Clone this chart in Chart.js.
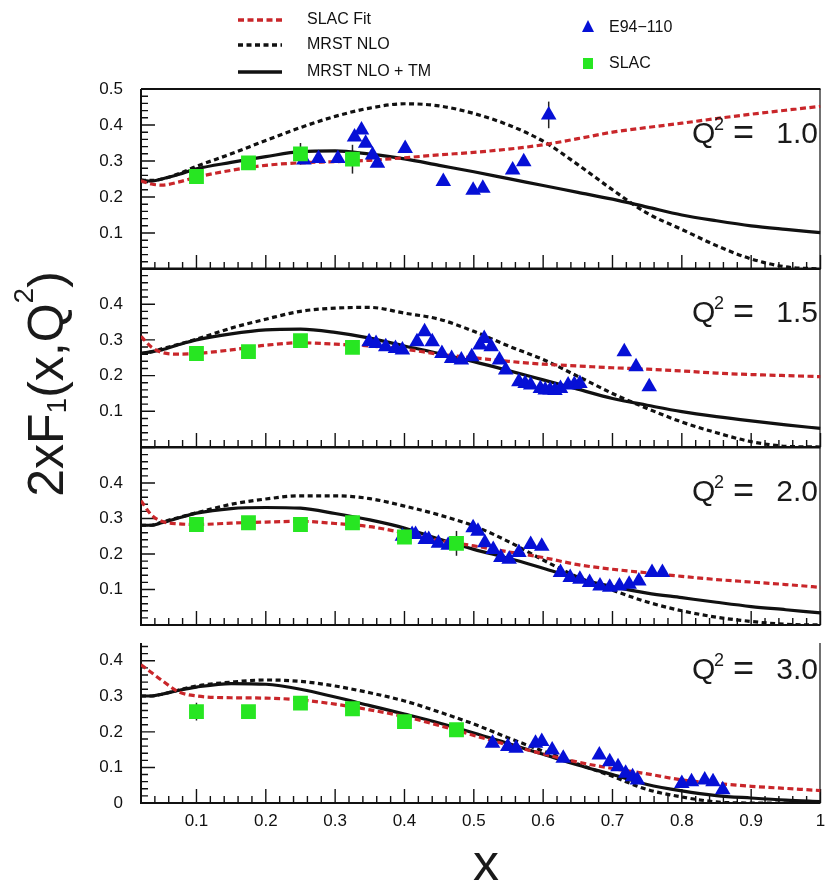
<!DOCTYPE html>
<html>
<head>
<meta charset="utf-8">
<script src="https://cdn.jsdelivr.net/npm/chart.js@4.4.1/dist/chart.umd.min.js"></script>
<style>
  html, body { margin: 0; padding: 0; background: #fff; }
  #wrap { position: relative; width: 831px; height: 883px; overflow: hidden; background: #fff; }
  #wrap canvas { position: absolute; left: 0; top: 0; }
</style>
</head>
<body>
<div id="wrap">
  <canvas id="p0" width="831" height="883"></canvas>
  <canvas id="p1" width="831" height="883"></canvas>
  <canvas id="p2" width="831" height="883"></canvas>
  <canvas id="p3" width="831" height="883"></canvas>
</div>
<script>
// ---- x grid shared by the model curves ----
const xGrid = [0.02, 0.035, 0.05, 0.075, 0.1, 0.15, 0.2, 0.25, 0.3, 0.35, 0.4, 0.45,
               0.5, 0.55, 0.6, 0.65, 0.7, 0.75, 0.8, 0.85, 0.9, 0.95, 1.0];

// ---- Q^2 = 1.0 ----
const slacFit1 = [0.245,0.236,0.233,0.242,0.255,0.274,0.288,0.295,0.298,0.302,0.309,0.317,0.324,0.333,0.345,0.362,0.380,0.393,0.405,0.418,0.430,0.441,0.452];
const mrst1    = [0.247,0.246,0.250,0.265,0.285,0.320,0.357,0.393,0.424,0.447,0.459,0.453,0.432,0.400,0.355,0.290,0.220,0.155,0.110,0.065,0.028,0.006,0.000];
const mrstTM1  = [0.247,0.244,0.250,0.263,0.278,0.296,0.312,0.326,0.328,0.319,0.306,0.288,0.270,0.251,0.232,0.213,0.194,0.172,0.150,0.134,0.120,0.110,0.101];
const e94X1 = [0.255,0.276,0.304,0.328,0.338,0.344,0.354,0.361,0.401,0.456,0.499,0.513,0.556,0.572,0.608];
const e94Y1 = [0.303,0.307,0.307,0.367,0.386,0.349,0.317,0.294,0.335,0.243,0.219,0.224,0.275,0.298,0.428];
const e94Err1 = [0,0,0,0,0,0,0,0,0,0,0,0,0,0,0.037];
const slacY1 = [0.257,0.295,0.320,0.305];
const slacErr1 = [0.012,0.012,0.030,0.040];

// ---- Q^2 = 1.5 ----
const slacFit2 = [0.310,0.280,0.265,0.260,0.262,0.272,0.285,0.292,0.288,0.283,0.274,0.260,0.250,0.240,0.232,0.227,0.222,0.218,0.213,0.207,0.203,0.200,0.197];
const mrst2    = [0.262,0.266,0.275,0.288,0.302,0.333,0.358,0.380,0.389,0.391,0.375,0.358,0.324,0.283,0.245,0.198,0.150,0.108,0.070,0.040,0.015,0.002,0.000];
const mrstTM2  = [0.262,0.267,0.272,0.287,0.300,0.317,0.328,0.330,0.321,0.305,0.283,0.262,0.239,0.214,0.188,0.162,0.136,0.117,0.099,0.085,0.073,0.062,0.052];
const e94X2 = [0.349,0.359,0.373,0.387,0.397,0.418,0.429,0.440,0.454,0.468,0.482,0.497,0.509,0.515,0.525,0.537,0.546,0.565,0.574,0.582,0.596,0.603,0.610,0.617,0.625,0.636,0.645,0.653,0.717,0.734,0.753];
const e94Y2 = [0.295,0.290,0.281,0.276,0.272,0.295,0.323,0.295,0.262,0.248,0.244,0.253,0.286,0.304,0.281,0.244,0.216,0.183,0.178,0.174,0.164,0.160,0.160,0.158,0.164,0.174,0.175,0.178,0.267,0.225,0.169];
const slacY2 = [0.262,0.267,0.298,0.279];
const slacErr2 = [0.012,0.012,0.012,0.012];

// ---- Q^2 = 2.0 ----
const slacFit3 = [0.350,0.310,0.292,0.285,0.283,0.287,0.290,0.292,0.286,0.277,0.259,0.238,0.223,0.206,0.190,0.170,0.157,0.147,0.137,0.128,0.121,0.114,0.106];
const mrst3    = [0.281,0.281,0.290,0.303,0.316,0.340,0.355,0.364,0.364,0.356,0.335,0.310,0.279,0.235,0.183,0.135,0.098,0.065,0.040,0.022,0.010,0.002,0.000];
const mrstTM3  = [0.281,0.281,0.288,0.302,0.315,0.328,0.331,0.329,0.314,0.296,0.273,0.242,0.213,0.188,0.160,0.131,0.108,0.090,0.077,0.064,0.052,0.043,0.034];
const e94X3 = [0.397,0.411,0.416,0.430,0.435,0.449,0.463,0.499,0.506,0.516,0.528,0.539,0.551,0.565,0.582,0.598,0.625,0.639,0.653,0.667,0.682,0.696,0.710,0.724,0.738,0.757,0.772];
const e94Y3 = [0.250,0.255,0.255,0.241,0.241,0.230,0.225,0.274,0.264,0.232,0.213,0.190,0.185,0.204,0.227,0.222,0.148,0.134,0.129,0.120,0.110,0.106,0.110,0.115,0.124,0.148,0.148];
const slacY3 = [0.283,0.288,0.283,0.288,0.248,0.230];
const slacErr3 = [0.010,0.010,0.010,0.010,0.012,0.035];

// ---- Q^2 = 3.0 ----
const slacFit4 = [0.389,0.367,0.345,0.312,0.301,0.296,0.295,0.290,0.278,0.262,0.243,0.218,0.190,0.163,0.138,0.115,0.097,0.082,0.065,0.055,0.047,0.041,0.035];
const mrst4    = [0.301,0.301,0.306,0.318,0.329,0.340,0.346,0.342,0.329,0.310,0.287,0.256,0.222,0.183,0.146,0.110,0.075,0.038,0.017,0.003,0.000,0.000,0.000];
const mrstTM4  = [0.301,0.301,0.306,0.317,0.326,0.336,0.334,0.320,0.298,0.274,0.250,0.225,0.197,0.167,0.137,0.107,0.080,0.052,0.034,0.021,0.014,0.008,0.004];
const e94X4 = [0.527,0.549,0.561,0.589,0.598,0.613,0.629,0.681,0.696,0.708,0.719,0.729,0.736,0.800,0.814,0.833,0.845,0.859];
const e94Y4 = [0.168,0.159,0.154,0.168,0.173,0.149,0.126,0.135,0.116,0.102,0.084,0.074,0.065,0.055,0.060,0.065,0.060,0.037];
const slacY4 = [0.257,0.257,0.281,0.265,0.229,0.206];
const slacErr4 = [0.025,0.010,0.010,0.010,0.012,0.012];

// SLAC measurement x positions
const slacX = [0.1, 0.175, 0.25, 0.325, 0.4, 0.475];

// axis labels
const xTickVals = [0.1,0.2,0.3,0.4,0.5,0.6,0.7,0.8,0.9,1.0];
const xTickText = ['0.1','0.2','0.3','0.4','0.5','0.6','0.7','0.8','0.9','1'];
const yTickVals5 = [0.1,0.2,0.3,0.4,0.5];
const yTickVals4 = [0.1,0.2,0.3,0.4];
const yTickVals4z = [0,0.1,0.2,0.3,0.4];
const q2Labels = ['1.0','1.5','2.0','3.0'];

const RED = '#c9262a', BLUE = '#0610d6', GREEN = '#27e622', INK = '#111';
const FONT = '"Liberation Sans", Arial, Helvetica, sans-serif';

const pts = (xs, ys) => xs.map((x, i) => ({ x, y: ys[i] }));

// draws frame, inward ticks and tick labels of one panel
const panelFrame = {
  id: 'panelFrame',
  beforeDatasetsDraw(chart, args, o) {
    const { ctx, chartArea: a, scales: { x, y } } = chart;
    ctx.save();
    ctx.strokeStyle = INK;
    ctx.lineWidth = 2;
    ctx.beginPath();
    ctx.moveTo(a.left, a.top); ctx.lineTo(a.left, a.bottom); ctx.lineTo(a.right, a.bottom);
    if (o.topLine) { ctx.moveTo(a.left, a.top); ctx.lineTo(a.right, a.top); }
    ctx.stroke();
    ctx.lineWidth = 1.2;
    ctx.beginPath();
    ctx.moveTo(a.right - 0.5, a.top); ctx.lineTo(a.right - 0.5, a.bottom);
    ctx.stroke();
    ctx.lineWidth = 1.4;
    ctx.beginPath();
    for (let k = 1; k * 0.02 <= o.yMax + 1e-9; k++) {
      const py = y.getPixelForValue(k * 0.02);
      const len = k % 5 === 0 ? 14 : 7;
      ctx.moveTo(a.left, py); ctx.lineTo(a.left + len, py);
    }
    for (let k = 1; k <= 50; k++) {
      const px = x.getPixelForValue(k * 0.02);
      const len = k % 5 === 0 ? 14 : 7;
      ctx.moveTo(px, a.bottom); ctx.lineTo(px, a.bottom - len);
    }
    ctx.stroke();
    ctx.restore();
  },
  afterDraw(chart, args, o) {
    const { ctx, chartArea: a, scales: { x, y } } = chart;
    ctx.save();
    ctx.fillStyle = INK;
    ctx.font = '17px ' + FONT;
    ctx.textAlign = 'right';
    ctx.textBaseline = 'middle';
    o.yTicks.forEach(v => ctx.fillText(v === 0 ? '0' : v.toFixed(1), a.left - 18, y.getPixelForValue(v)));
    if (o.xLabels) {
      ctx.textAlign = 'center';
      xTickVals.forEach((v, i) => ctx.fillText(xTickText[i], x.getPixelForValue(v), a.bottom + 18));
    }
    // Q^2 annotation
    const base = y.getPixelForValue(0.35);
    ctx.fillStyle = '#1a1a1a';
    ctx.textBaseline = 'alphabetic';
    ctx.textAlign = 'left';
    ctx.font = '30px ' + FONT;
    ctx.fillText('Q', 692, base);
    ctx.font = '18px ' + FONT;
    ctx.fillText('2', 714, base - 13);
    ctx.font = '36px ' + FONT;
    ctx.fillText('=', 733, base + 1);
    ctx.font = '30px ' + FONT;
    ctx.textAlign = 'right';
    ctx.fillText(o.q, 818, base);
    ctx.restore();
  }
};

// symmetric vertical error bars from dataset.errors
const errorBars = {
  id: 'errorBars',
  beforeDatasetsDraw(chart) {
    const { ctx, scales: { x, y } } = chart;
    ctx.save();
    ctx.strokeStyle = '#222';
    ctx.lineWidth = 1.5;
    chart.data.datasets.forEach(ds => {
      if (!ds.errors) return;
      ds.data.forEach((p, i) => {
        const e = ds.errors[i];
        if (!e) return;
        const px = x.getPixelForValue(p.x);
        ctx.beginPath();
        ctx.moveTo(px, y.getPixelForValue(p.y - e));
        ctx.lineTo(px, y.getPixelForValue(p.y + e));
        ctx.stroke();
      });
    });
    ctx.restore();
  }
};

// legend and axis titles
const decor = {
  id: 'decor',
  afterDraw(chart) {
    const ctx = chart.ctx;
    ctx.save();
    // legend lines
    const line = (y, color, dash, w) => {
      ctx.strokeStyle = color; ctx.lineWidth = w; ctx.setLineDash(dash);
      ctx.beginPath(); ctx.moveTo(238, y); ctx.lineTo(282, y); ctx.stroke();
    };
    line(20, RED, [6, 3.5], 3.5);
    line(45, INK, [5, 3.5], 3.5);
    line(72, INK, [], 3.5);
    ctx.setLineDash([]);
    ctx.fillStyle = INK;
    ctx.font = '16px ' + FONT;
    ctx.textAlign = 'left';
    ctx.textBaseline = 'middle';
    ctx.fillText('SLAC Fit', 307, 20);
    ctx.fillText('MRST NLO', 307, 45);
    ctx.fillText('MRST NLO + TM', 307, 72);
    ctx.fillText('E94\u2212110', 609, 28);
    ctx.fillText('SLAC', 609, 64);
    // legend markers
    ctx.fillStyle = BLUE;
    ctx.beginPath();
    ctx.moveTo(588, 20); ctx.lineTo(594, 32); ctx.lineTo(582, 32); ctx.closePath(); ctx.fill();
    ctx.fillStyle = GREEN;
    ctx.fillRect(583, 58, 10, 11);

    // y title: 2xF1(x,Q2)
    ctx.save();
    ctx.translate(43, 384);
    ctx.rotate(-Math.PI / 2);
    ctx.fillStyle = '#1a1a1a';
    ctx.textBaseline = 'alphabetic';
    ctx.textAlign = 'left';
    const parts = [
      { t: '2xF', s: 50, dy: 0 },
      { t: '1', s: 28, dy: 3 },
      { t: '(x,Q', s: 50, dy: 0 },
      { t: '2', s: 28, dy: -30 },
      { t: ')', s: 50, dy: 0 }
    ];
    let total = 0;
    parts.forEach(p => { ctx.font = p.s + 'px ' + FONT; p.w = ctx.measureText(p.t).width; total += p.w; });
    let cx = -total / 2;
    parts.forEach(p => { ctx.font = p.s + 'px ' + FONT; ctx.fillText(p.t, cx, 20 + p.dy); cx += p.w; });
    ctx.restore();

    // x title
    ctx.font = '52px ' + FONT;
    ctx.textAlign = 'center';
    ctx.textBaseline = 'alphabetic';
    ctx.fillStyle = '#1a1a1a';
    ctx.fillText('x', 486, 880);
    ctx.restore();
  }
};

const panels = [
  { id: 'p0', top: 89,    bottom: 269, yMax: 0.5,  yTicks: yTickVals5,  topLine: true,  xLabels: false,
    fit: slacFit1, mrst: mrst1, tm: mrstTM1, ex: e94X1, ey: e94Y1, ee: e94Err1, sy: slacY1, se: slacErr1, q: q2Labels[0] },
  { id: 'p1', top: 268.5, bottom: 447, yMax: 0.5,  yTicks: yTickVals4,  topLine: true,  xLabels: false,
    fit: slacFit2, mrst: mrst2, tm: mrstTM2, ex: e94X2, ey: e94Y2, ee: null, sy: slacY2, se: slacErr2, q: q2Labels[1] },
  { id: 'p2', top: 447.5, bottom: 625, yMax: 0.5,  yTicks: yTickVals4,  topLine: true,  xLabels: false,
    fit: slacFit3, mrst: mrst3, tm: mrstTM3, ex: e94X3, ey: e94Y3, ee: null, sy: slacY3, se: slacErr3, q: q2Labels[2] },
  { id: 'p3', top: 643,   bottom: 803, yMax: 0.45, yTicks: yTickVals4z, topLine: false, xLabels: true,
    fit: slacFit4, mrst: mrst4, tm: mrstTM4, ex: e94X4, ey: e94Y4, ee: null, sy: slacY4, se: slacErr4, q: q2Labels[3] }
];

panels.forEach((p, idx) => {
  const curve = (ys, color, dash) => ({
    type: 'scatter', showLine: true, data: pts(xGrid, ys),
    borderColor: color, borderWidth: 3.2, borderDash: dash, borderCapStyle: 'butt',
    pointRadius: 0, cubicInterpolationMode: 'monotone', fill: false
  });
  new Chart(document.getElementById(p.id), {
    type: 'scatter',
    data: {
      datasets: [
        { label: 'SLAC', data: pts(slacX.slice(0, p.sy.length), p.sy), errors: p.se,
          pointStyle: 'rect', pointRadius: 10.5, backgroundColor: GREEN, borderColor: GREEN, borderWidth: 0 },
        { label: 'E94\u2212110', data: pts(p.ex, p.ey), errors: p.ee,
          pointStyle: 'triangle', pointRadius: 9, backgroundColor: BLUE, borderColor: BLUE, borderWidth: 0 },
        { label: 'SLAC Fit', ...curve(p.fit, RED, [6, 3.5]) },
        { label: 'MRST NLO', ...curve(p.mrst, INK, [5, 3.5]) },
        { label: 'MRST NLO + TM', ...curve(p.tm, INK, []) }
      ]
    },
    options: {
      responsive: false,
      animation: false,
      events: [],
      layout: { padding: { left: 141, right: 1, top: p.top, bottom: 883 - p.bottom } },
      scales: {
        x: { type: 'linear', min: 0.02, max: 1.0, display: false },
        y: { type: 'linear', min: 0, max: p.yMax, display: false }
      },
      plugins: {
        legend: { display: false },
        tooltip: { enabled: false },
        panelFrame: { yMax: p.yMax, yTicks: p.yTicks, topLine: p.topLine, xLabels: p.xLabels, q: p.q }
      }
    },
    plugins: idx === 0 ? [panelFrame, errorBars, decor] : [panelFrame, errorBars]
  });
});
</script>
</body>
</html>
